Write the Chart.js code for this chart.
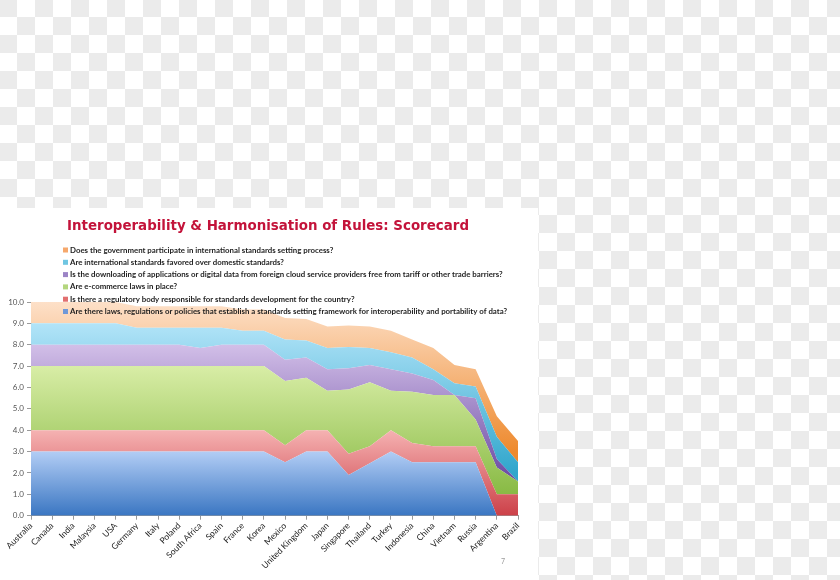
<!DOCTYPE html>
<html>
<head>
<meta charset="utf-8">
<script src="https://cdn.jsdelivr.net/npm/chart.js@4.4.1/dist/chart.umd.min.js"></script>
<style>
    html, body {
        margin: 0;
        padding: 0;
        width: 840px;
        height: 580px;
        overflow: hidden;
        background: repeating-conic-gradient(#ffffff 0 25%, #ebebeb 0 50%) -1px -1px / 36px 36px;
    }
    #panel {
        position: absolute;
        left: 0;
        top: 208px;
        width: 538px;
        height: 372px;
        background: #fff;
    }
    #scoreChart {
        position: absolute;
        left: 0;
        top: 0;
    }
    #pageNo {
        position: absolute;
        left: 501px;
        top: 349px;
        font: 7px Lato, sans-serif;
        color: #9a9a9a;
    }
</style>
</head>
<body>
<div id="panel">
    <canvas id="scoreChart" width="538" height="372"></canvas>
    <div id="pageNo">7</div>
</div>
<script>
const chartTitle = 'Interoperability & Harmonisation of Rules: Scorecard';

const countries = ['Australia', 'Canada', 'India', 'Malaysia', 'USA', 'Germany', 'Italy', 'Poland',
    'South Africa', 'Spain', 'France', 'Korea', 'Mexico', 'United Kingdom', 'Japan', 'Singapore',
    'Thailand', 'Turkey', 'Indonesia', 'China', 'Vietnam', 'Russia', 'Argentina', 'Brazil'];

const yTicks = [0, 1, 2, 3, 4, 5, 6, 7, 8, 9, 10];

// stacked from the bottom up
const lawsFramework = [3, 3, 3, 3, 3, 3, 3, 3, 3, 3, 3, 3, 2.5, 3, 3, 1.9, 2.45, 3, 2.5, 2.5, 2.5, 2.5, 0, 0];
const regulatoryBody = [1, 1, 1, 1, 1, 1, 1, 1, 1, 1, 1, 1, 0.8, 1, 1, 1, 0.8, 1, 0.9, 0.75, 0.75, 0.75, 1, 1];
const eCommerceLaws = [3, 3, 3, 3, 3, 3, 3, 3, 3, 3, 3, 3, 3, 2.45, 1.85, 3, 3, 1.85, 2.4, 2.4, 2.4, 1.25, 1.25, 0.6];
const freeDownloading = [1, 1, 1, 1, 1, 1, 1, 1, 0.85, 1, 1, 1, 1, 0.95, 1, 1, 0.8, 1, 0.85, 0.7, 0, 1, 0.4, 0];
const intlFavored = [1, 1, 1, 1, 1, 0.8, 0.8, 0.8, 0.95, 0.8, 0.65, 0.65, 0.95, 0.8, 1, 1, 0.8, 0.8, 0.75, 0.5, 0.55, 0.55, 1.05, 0.9];
const intlParticipation = [1, 1, 1, 1, 1, 1, 1, 1, 1, 1, 1, 1, 1, 1, 1, 1, 1, 1, 0.85, 1, 0.85, 0.8, 0.95, 1];

const questions = [
    'Are there laws, regulations or policies that establish a standards setting framework for interoperability and portability of data?',
    'Is there a regulatory body responsible for standards development for the country?',
    'Are e-commerce laws in place?',
    'Is the downloading of applications or digital data from foreign cloud service providers free from tariff or other trade barriers?',
    'Are international standards favored over domestic standards?',
    'Does the government participate in international standards setting process?'
];

// light / dark gradient ends, and the values where they sit
const fills = [
    { light: '#b2cdf5', dark: '#3a76c2', key: '#6f98d8', hi: 3, lo: 0 },
    { light: '#f5b2b2', dark: '#cc4048', key: '#e27070', hi: 4, lo: 0 },
    { light: '#d8eda6', dark: '#88ba44', key: '#b4d67e', hi: 7, lo: 1 },
    { light: '#d2bfe8', dark: '#7050a6', key: '#9c84c6', hi: 8, lo: 2 },
    { light: '#b2e4f8', dark: '#30a6cc', key: '#70c6e2', hi: 9, lo: 2 },
    { light: '#fde0c8', dark: '#ee8a2e', key: '#f6a86c', hi: 10, lo: 3 }
];

const seriesValues = [lawsFramework, regulatoryBody, eCommerceLaws, freeDownloading, intlFavored, intlParticipation];

function areaFill(f) {
    return function (ctx) {
        const chart = ctx.chart;
        if (!chart.chartArea) return f.key;
        const y = chart.scales.y;
        const g = chart.ctx.createLinearGradient(0, y.getPixelForValue(f.hi), 0, y.getPixelForValue(f.lo));
        g.addColorStop(0, f.light);
        g.addColorStop(1, f.dark);
        return g;
    };
}

const datasets = seriesValues.map((vals, i) => ({
    label: questions[i],
    data: vals,
    fill: i === 0 ? 'origin' : '-1',
    backgroundColor: areaFill(fills[i]),
    borderWidth: 0,
    borderColor: 'rgba(0,0,0,0)',
    pointRadius: 0,
    tension: 0
}));

// title and legend sit above / over the plot like in the slide
const headerPlugin = {
    id: 'header',
    afterDraw(chart) {
        const ctx = chart.ctx;
        ctx.save();
        ctx.fillStyle = '#c3133a';
        ctx.font = 'bold 13.4px "DejaVu Sans"';
        ctx.textAlign = 'center';
        ctx.textBaseline = 'alphabetic';
        ctx.fillText(chartTitle, 268, 21.5);

        ctx.font = 'bold 7.85px Lato';
        ctx.textAlign = 'left';
        ctx.textBaseline = 'middle';
        const n = chart.data.datasets.length;
        for (let k = 0; k < n; k++) {
            const i = n - 1 - k;
            const y = 42 + k * 12.3;
            ctx.fillStyle = fills[i].key;
            ctx.fillRect(63, y - 2.5, 5, 5);
            ctx.fillStyle = '#1e1e1e';
            ctx.fillText(chart.data.datasets[i].label, 70, y);
        }
        ctx.restore();
    }
};

Chart.defaults.font.family = 'Lato';

new Chart(document.getElementById('scoreChart'), {
    type: 'line',
    data: { labels: countries, datasets: datasets },
    options: {
        responsive: false,
        animation: false,
        layout: { padding: { top: 94, right: 20, left: 0, bottom: 0 } },
        plugins: {
            legend: { display: false },
            tooltip: { enabled: false }
        },
        scales: {
            x: {
                offset: false,
                afterFit: s => { s.height = 64.3; s.paddingLeft = 0; s.paddingRight = 0; },
                grid: { drawOnChartArea: false, drawTicks: true, tickLength: 4, color: '#9a9a9a' },
                border: { color: '#9a9a9a' },
                ticks: {
                    autoSkip: false, maxRotation: 45, minRotation: 45, padding: 1,
                    color: '#222', font: { size: 8.5 }
                }
            },
            y: {
                stacked: true,
                min: 0,
                max: 10,
                afterFit: s => { s.width = 31; },
                afterBuildTicks: s => { s.ticks = yTicks.map(v => ({ value: v })); },
                grid: { drawOnChartArea: false, drawTicks: true, tickLength: 4, color: '#9a9a9a' },
                border: { color: '#9a9a9a' },
                ticks: {
                    padding: 3, color: '#555', font: { size: 8 },
                    callback: v => v.toFixed(1)
                }
            }
        }
    },
    plugins: [headerPlugin]
});
</script>
</body>
</html>
